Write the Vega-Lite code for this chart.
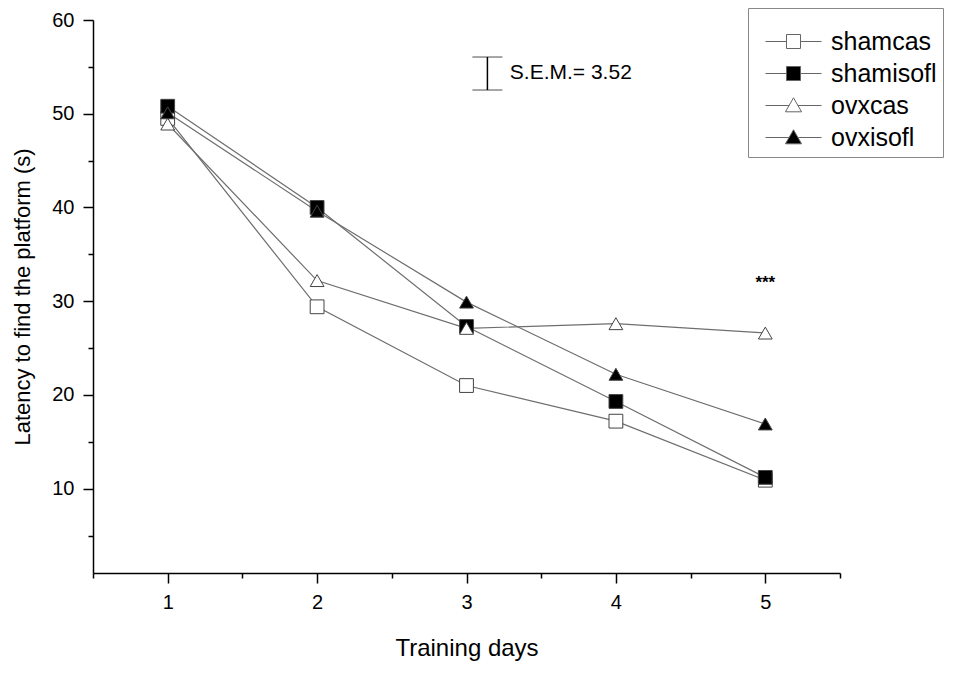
{
  "$schema": "https://vega.github.io/schema/vega-lite/v6.json",
  "width": 747,
  "height": 553,
  "autosize": "none",
  "padding": {"left": 93, "top": 20, "right": 113, "bottom": 102},
  "background": "white",
  "config": {
    "view": {"stroke": null},
    "font": "Liberation Sans",
    "axis": {"domainColor": "black", "domainWidth": 1.5, "tickColor": "black", "tickWidth": 1.5, "grid": false, "labelColor": "black", "titleColor": "black", "labelFont": "Liberation Sans", "titleFont": "Liberation Sans", "titleFontWeight": "normal", "labelFontSize": 20, "titleFontSize": 22}
  },
  "datasets": {
    "main": [
      {"day": 1, "group": "shamcas", "latency": 49.5},
      {"day": 2, "group": "shamcas", "latency": 29.4},
      {"day": 3, "group": "shamcas", "latency": 21.0},
      {"day": 4, "group": "shamcas", "latency": 17.2},
      {"day": 5, "group": "shamcas", "latency": 10.9},
      {"day": 1, "group": "shamisofl", "latency": 50.8},
      {"day": 2, "group": "shamisofl", "latency": 40.0},
      {"day": 3, "group": "shamisofl", "latency": 27.3},
      {"day": 4, "group": "shamisofl", "latency": 19.3},
      {"day": 5, "group": "shamisofl", "latency": 11.2},
      {"day": 1, "group": "ovxcas", "latency": 48.9},
      {"day": 2, "group": "ovxcas", "latency": 32.2},
      {"day": 3, "group": "ovxcas", "latency": 27.1},
      {"day": 4, "group": "ovxcas", "latency": 27.6},
      {"day": 5, "group": "ovxcas", "latency": 26.6},
      {"day": 1, "group": "ovxisofl", "latency": 50.1},
      {"day": 2, "group": "ovxisofl", "latency": 39.6},
      {"day": 3, "group": "ovxisofl", "latency": 29.9},
      {"day": 4, "group": "ovxisofl", "latency": 22.2},
      {"day": 5, "group": "ovxisofl", "latency": 16.9}
    ]
  },
  "resolve": {"scale": {"shape": "independent", "fill": "independent"}, "axis": {"x": "independent", "y": "independent"}},
  "layer": [
    {
      "data": {"name": "main"},
      "mark": {"type": "line", "stroke": "#6e6e6e", "strokeWidth": 1.2},
      "encoding": {
        "x": {"field": "day", "type": "quantitative", "scale": {"domain": [0.5, 5.5], "nice": false, "zero": false},
              "axis": {"orient": "bottom", "values": [1, 2, 3, 4, 5], "tickSize": 10, "labelPadding": 9, "labelFontSize": 20, "title": "Training days", "titlePadding": 24, "titleFontSize": 24, "format": "d"}},
        "y": {"field": "latency", "type": "quantitative", "scale": {"domain": [1, 60], "nice": false, "zero": false},
              "axis": {"orient": "left", "values": [10, 20, 30, 40, 50, 60], "tickSize": 10, "labelPadding": 9, "labelFontSize": 20, "title": "Latency to find the platform (s)", "titleFontSize": 22, "titlePadding": 17}},
        "detail": {"field": "group"}
      }
    },
    {
      "data": {"name": "main"},
      "mark": {"type": "point", "filled": true, "stroke": "#444", "strokeWidth": 1, "opacity": 1, "size": 190},
      "encoding": {
        "x": {"field": "day", "type": "quantitative", "scale": {"domain": [0.5, 5.5], "nice": false, "zero": false},
              "axis": {"orient": "bottom", "values": [0.5, 1.5, 2.5, 3.5, 4.5, 5.5], "tickSize": 5, "labels": false, "domain": false, "title": null}},
        "y": {"field": "latency", "type": "quantitative", "scale": {"domain": [1, 60], "nice": false, "zero": false},
              "axis": {"orient": "left", "values": [5, 15, 25, 35, 45, 55], "tickSize": 5, "labels": false, "domain": false, "title": null}},
        "shape": {"field": "group", "type": "nominal", "scale": {"domain": ["shamcas", "shamisofl", "ovxcas", "ovxisofl"], "range": ["square", "square", "triangle-up", "triangle-up"]}, "legend": null},
        "fill": {"field": "group", "type": "nominal", "scale": {"domain": ["shamcas", "shamisofl", "ovxcas", "ovxisofl"], "range": ["white", "black", "white", "black"]}, "legend": null}
      }
    },
    {
      "data": {"name": "main"},
      "mark": {"type": "point", "filled": true, "opacity": 0, "size": 196},
      "encoding": {
        "x": {"field": "day", "type": "quantitative", "axis": null},
        "y": {"field": "latency", "type": "quantitative", "axis": null},
        "shape": {"field": "group", "type": "nominal", "scale": {"domain": ["shamcas", "shamisofl", "ovxcas", "ovxisofl"], "range": ["M-4,0H-1M1,0H4M-1,-1H1V1H-1Z", "M-4,0H-1M1,0H4M-1,-1H1V1H-1Z", "M-4,0H-0.6M0.6,0H4M0,-1.1L1.15,0.9H-1.15Z", "M-4,0H-0.6M0.6,0H4M0,-1.1L1.15,0.9H-1.15Z"]},
                  "legend": {"title": " ", "titleFontSize": 12, "titlePadding": 3, "orient": "none", "legendX": 655, "legendY": -12, "strokeColor": "#888", "padding": 6, "symbolSize": 196, "symbolOffset": 27, "labelOffset": 25, "labelFontSize": 25, "labelFont": "Liberation Sans", "labelColor": "black", "rowPadding": 6,
                             "encode": {"symbols": {"update": {"stroke": {"value": "#666"}, "strokeWidth": {"value": 1}, "opacity": {"value": 1}}}}}},
        "fill": {"field": "group", "type": "nominal", "scale": {"domain": ["shamcas", "shamisofl", "ovxcas", "ovxisofl"], "range": ["white", "black", "white", "black"]},
                 "legend": {"title": " ", "titleFontSize": 12, "titlePadding": 3, "orient": "none", "legendX": 655, "legendY": -12, "strokeColor": "#888", "padding": 6, "symbolSize": 196, "symbolOffset": 27, "labelOffset": 25, "labelFontSize": 25, "labelFont": "Liberation Sans", "labelColor": "black", "rowPadding": 6,
                            "encode": {"symbols": {"update": {"stroke": {"value": "#666"}, "strokeWidth": {"value": 1}, "opacity": {"value": 1}}}}}}
      }
    },
    {
      "data": {"values": [{"day": 3.14, "lo": 52.53, "hi": 56.05}]},
      "mark": {"type": "errorbar", "ticks": {"size": 30, "color": "black", "strokeWidth": 1.5}, "rule": {"color": "black", "strokeWidth": 1.5}},
      "encoding": {
        "x": {"field": "day", "type": "quantitative", "axis": null},
        "y": {"field": "lo", "type": "quantitative", "axis": null},
        "y2": {"field": "hi"}
      }
    },
    {
      "data": {"values": [{"day": 3.29, "latency": 54.3, "label": "S.E.M.= 3.52"}]},
      "mark": {"type": "text", "align": "left", "baseline": "middle", "fontSize": 21, "color": "black", "font": "Liberation Sans"},
      "encoding": {
        "x": {"field": "day", "type": "quantitative", "axis": null},
        "y": {"field": "latency", "type": "quantitative", "axis": null},
        "text": {"field": "label"}
      }
    },
    {
      "data": {"values": [{"day": 5.0, "latency": 31.9, "label": "***"}]},
      "mark": {"type": "text", "align": "center", "baseline": "middle", "fontSize": 17, "fontWeight": "bold", "color": "black", "font": "Liberation Sans"},
      "encoding": {
        "x": {"field": "day", "type": "quantitative", "axis": null},
        "y": {"field": "latency", "type": "quantitative", "axis": null},
        "text": {"field": "label"}
      }
    }
  ]
}
